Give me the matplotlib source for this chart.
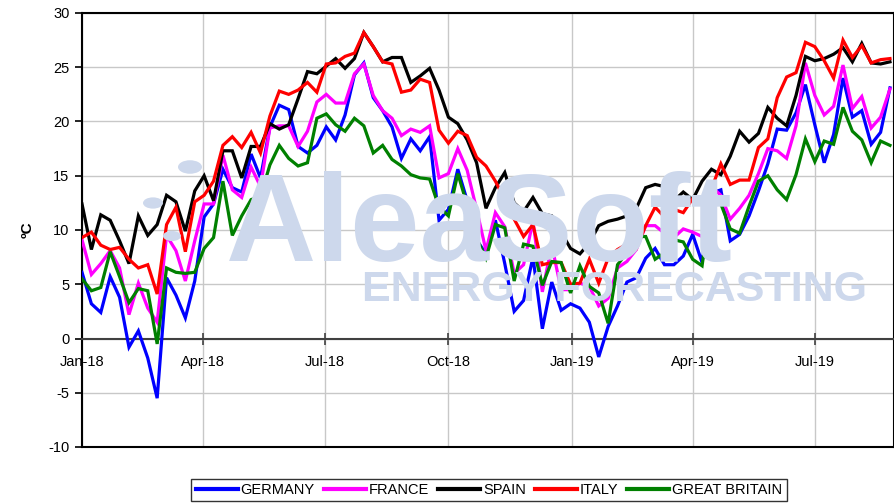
import matplotlib
matplotlib.use("Agg")
import matplotlib.pyplot as plt
from matplotlib.patches import Circle
import pandas as pd

plt.rcParams['font.family'] = ['Liberation Sans', 'DejaVu Sans']
plt.rcParams['axes.unicode_minus'] = False

# Weekly average temperatures (ºC), weeks starting 2018-01-01
weeks = pd.date_range('2018-01-01', periods=87, freq='7D')

germany = [6.1, 3.2, 2.4, 5.7, 3.8, -0.8, 0.7, -1.8, -5.5, 5.6, 4.0, 1.9, 5.3, 11.2, 12.4,
           15.6, 13.9, 13.5, 17.0, 14.8, 19.5, 21.5, 21.1, 17.7, 17.1, 17.8, 19.5, 18.3, 20.6,
           24.3, 25.4, 22.2, 21.0, 19.5, 16.6, 18.4, 17.3, 18.6, 10.9, 11.9, 15.6, 12.7, 9.1,
           7.8, 10.9, 6.9, 2.5, 3.5, 7.5, 0.9, 5.2, 2.6, 3.2, 2.8, 1.5, -1.7, 1.1, 3.0, 5.2,
           5.6, 7.4, 8.3, 6.8, 6.8, 7.6, 9.6, 7.0, 13.4, 13.7, 9.0, 9.6, 11.3, 13.6, 16.1, 19.3,
           19.2, 20.8, 23.4, 19.7, 16.2, 18.8, 24.0, 20.4, 21.0, 17.9, 19.0, 23.1]

france = [9.1, 5.9, 6.9, 8.1, 6.5, 2.2, 5.1, 2.8, 1.5, 9.5, 8.1, 5.3, 9.0, 12.4, 12.4,
          16.9, 13.7, 13.0, 15.8, 14.0, 19.4, 19.6, 19.6, 17.7, 19.1, 21.8, 22.5, 21.7, 21.7,
          24.4, 25.3, 22.4, 21.0, 20.3, 18.7, 19.3, 19.0, 19.6, 14.8, 15.2, 17.5, 15.5, 11.9,
          8.1, 11.6, 10.3, 6.0, 6.8, 10.8, 4.3, 8.6, 4.5, 4.5, 5.1, 4.8, 3.0, 3.7, 6.5, 7.1,
          8.2, 10.4, 10.4, 9.7, 9.3, 10.1, 9.8, 9.4, 14.0, 13.2, 11.0, 12.0, 13.2, 15.2, 17.5,
          17.3, 16.6, 19.6, 25.4, 22.4, 20.6, 21.4, 25.2, 21.2, 22.3, 19.4, 20.4, 23.0]

spain = [12.4, 8.2, 11.4, 10.9, 9.0, 6.9, 11.3, 9.5, 10.5, 13.2, 12.6, 9.9, 13.6, 15.0, 12.7,
         17.3, 17.3, 14.8, 17.7, 17.7, 19.8, 19.3, 19.7, 22.1, 24.6, 24.4, 25.1, 25.8, 24.9,
         25.8, 28.2, 26.9, 25.5, 25.9, 25.9, 23.6, 24.2, 24.9, 22.9, 20.4, 19.8, 18.3, 16.2,
         12.0, 13.9, 15.3, 12.5, 11.7, 13.0, 11.5, 11.3, 9.8, 8.3, 7.8, 8.8, 10.4, 10.8, 11.0,
         11.3, 12.0, 13.9, 14.2, 14.0, 12.7, 13.5, 12.8, 14.5, 15.6, 15.1, 16.8, 19.1, 18.1,
         18.9, 21.3, 20.3, 19.6, 22.4, 26.0, 25.6, 25.8, 26.2, 26.8, 25.5, 27.2, 25.4, 25.3, 25.5]

italy = [9.3, 9.8, 8.6, 8.2, 8.4, 7.3, 6.5, 6.8, 4.1, 10.5, 12.1, 8.0, 12.6, 13.2, 14.5,
         17.8, 18.6, 17.6, 19.0, 17.1, 20.5, 22.8, 22.5, 22.9, 23.6, 22.7, 25.3, 25.4, 26.0,
         26.3, 28.2, 26.9, 25.5, 25.3, 22.7, 22.9, 23.9, 23.6, 19.2, 18.0, 19.1, 18.7, 16.7,
         15.9, 14.5, 12.8, 11.0, 9.4, 10.5, 6.8, 7.0, 7.0, 5.0, 5.1, 7.3, 5.1, 7.4, 8.2, 8.7,
         8.3, 10.4, 12.1, 11.2, 11.9, 11.6, 12.9, 12.5, 13.8, 16.1, 14.2, 14.6, 14.6, 17.6,
         18.4, 22.2, 24.1, 24.5, 27.3, 26.9, 25.6, 24.0, 27.5, 25.9, 27.0, 25.4, 25.7, 25.8]

great_britain = [5.5, 4.4, 4.7, 8.0, 5.7, 3.3, 4.6, 4.4, -0.5, 6.5, 6.1, 6.0, 6.1, 8.3, 9.3,
                 14.5, 9.5, 11.3, 12.8, 13.1, 16.0, 17.8, 16.6, 15.9, 16.2, 20.3, 20.7, 19.7,
                 19.1, 20.3, 19.6, 17.1, 17.8, 16.5, 15.9, 15.1, 14.8, 14.7, 12.1, 11.3, 15.2,
                 12.3, 9.2, 7.4, 10.5, 10.2, 5.3, 8.7, 8.5, 4.9, 7.1, 7.0, 4.2, 6.7, 4.8, 4.2,
                 1.4, 6.8, 7.9, 9.4, 9.4, 7.3, 7.9, 9.1, 8.9, 7.3, 6.7, 13.0, 12.4, 10.1, 9.7,
                 12.2, 14.5, 15.0, 13.7, 12.8, 15.1, 18.4, 16.3, 18.2, 17.9, 21.3, 19.1, 18.3,
                 16.2, 18.2, 17.8]

series_names = ['GERMANY', 'FRANCE', 'SPAIN', 'ITALY', 'GREAT BRITAIN']
series_values = [germany, france, spain, italy, great_britain]
series_colors = ['#0000FF', '#FF00FF', '#000000', '#FF0000', '#008000']

tick_dates = ['2018-01-01', '2018-04-01', '2018-07-01', '2018-10-01',
              '2019-01-01', '2019-04-01', '2019-07-01']
tick_labels = ['Jan-18', 'Apr-18', 'Jul-18', 'Oct-18', 'Jan-19', 'Apr-19', 'Jul-19']
y_ticks = [-10, -5, 0, 5, 10, 15, 20, 25, 30]

fig = plt.figure(figsize=(8.95, 5.04), dpi=100)
ax = fig.add_axes([82 / 895, 1 - 447 / 504, 812 / 895, 434 / 504])

# watermark
wm_color = '#cdd8ec'
fig.text(226 / 895, 1 - 261 / 504, 'AleaSoft', fontsize=90, fontweight='bold',
         color=wm_color, zorder=0.5, ha='left', va='baseline')
fig.text(362 / 895, 1 - 301 / 504, 'ENERGY FORECASTING', fontsize=31, fontweight='bold',
         color=wm_color, zorder=0.5, ha='left', va='baseline')
for (cx, cy, r) in [(190, 167, 12), (153, 203, 10), (172, 236, 9)]:
    fig.patches.append(Circle((cx / 895, 1 - cy / 504), r / 895, transform=fig.transFigure,
                              facecolor=wm_color, edgecolor='none', zorder=0.5))

ax.set_facecolor('none')
for name, vals, col in zip(series_names, series_values, series_colors):
    ax.plot(weeks, vals, color=col, lw=2.3, label=name, solid_joinstyle='miter', zorder=3)

x0 = pd.Timestamp('2018-01-01')
ax.set_xlim(x0, x0 + pd.Timedelta(days=605))
ax.set_ylim(-10, 30)
ax.set_yticks(y_ticks)
ax.set_yticklabels([str(v) for v in y_ticks])
ax.set_xticks(pd.to_datetime(tick_dates))
ax.set_xticklabels(tick_labels)

ax.grid(True, color='#c8c8c8', lw=1.0, zorder=0)
ax.set_axisbelow(True)

for s in ['left', 'right', 'top']:
    ax.spines[s].set_color('black')
    ax.spines[s].set_linewidth(1.5)
ax.spines['bottom'].set_position(('data', 0))
ax.spines['bottom'].set_color('#404040')
ax.spines['bottom'].set_linewidth(1.5)
ax.plot([0, 1], [0, 0], transform=ax.transAxes, color='black', lw=1.5, clip_on=False, zorder=4)

ax.tick_params(axis='x', direction='inout', length=8, width=1.2, color='#404040',
               labelsize=10.5, pad=8)
ax.tick_params(axis='y', direction='out', length=5, width=1.2, labelsize=10.5, pad=4)

fig.text(28 / 895, 1 - 230 / 504, 'ºC', rotation=90, fontsize=11, fontweight='bold',
         ha='center', va='center')

leg = fig.legend(loc='center', bbox_to_anchor=(489 / 895, 1 - 490 / 504), ncol=5,
                 frameon=True, fancybox=False, edgecolor='black', fontsize=10.5,
                 handlelength=2.9, handletextpad=0.2, columnspacing=0.6,
                 borderpad=0.3, borderaxespad=0)
leg.get_frame().set_linewidth(1.0)
for line in leg.get_lines():
    line.set_linewidth(3)

fig.savefig('out.png', dpi=100)
